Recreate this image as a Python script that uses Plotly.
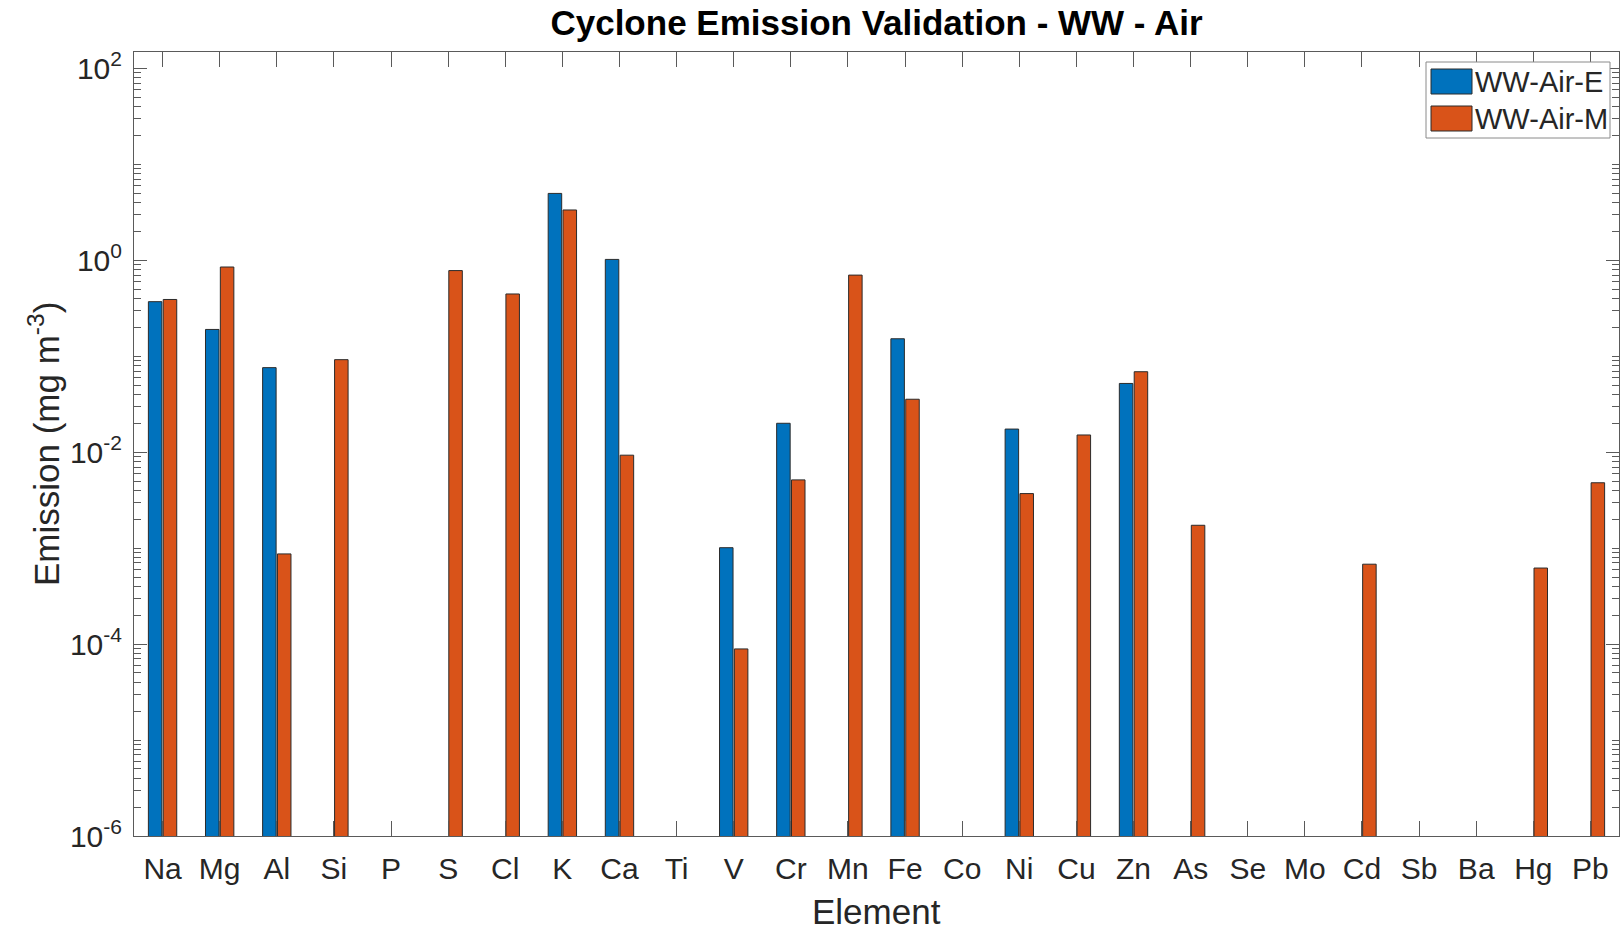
import plotly.graph_objects as go

# Elements on the x axis
elements = ["Na", "Mg", "Al", "Si", "P", "S", "Cl", "K", "Ca", "Ti", "V", "Cr", "Mn",
            "Fe", "Co", "Ni", "Cu", "Zn", "As", "Se", "Mo", "Cd", "Sb", "Ba", "Hg", "Pb"]

# Experimental emissions (mg m^-3); None = not measured / zero
ww_air_e = [0.37, 0.19, 0.076, None, None, None, None, 4.97, 1.02, None, 0.00101, 0.020, None,
            0.152, None, 0.0174, None, 0.052, None, None, None, None, None, None, None, None]

# Model emissions (mg m^-3)
ww_air_m = [0.39, 0.85, 0.00087, 0.092, None, 0.78, 0.445, 3.34, 0.0093, None, 0.000089, 0.00514, 0.70,
            0.0356, None, 0.0037, 0.0151, 0.0689, 0.00173, None, None, 0.00068, None, None, 0.00062, 0.0048]

series_names = ["WW-Air-E", "WW-Air-M"]
series_colors = ["#0072BD", "#D95319"]

# Decade labels on the log axis
y_tick_vals = [1e-6, 1e-4, 1e-2, 1e0, 1e2]
y_tick_text = ["10<sup>-6</sup>", "10<sup>-4</sup>", "10<sup>-2</sup>", "10<sup>0</sup>", "10<sup>2</sup>"]

FONT = "Liberation Sans, Arial, Helvetica, sans-serif"
AXIS_COLOR = "#5a5a5a"
TEXT_COLOR = "#262626"

W, H = 1624, 930
ML, MR, MT, MB = 134, 5, 52, 94
PW, PH = W - ML - MR, H - MT - MB

fig = go.Figure()
for name, vals, col in zip(series_names, [ww_air_e, ww_air_m], series_colors):
    fig.add_trace(go.Bar(
        x=elements, y=vals, name=name,
        marker=dict(color=col, line=dict(color="#2b2b2b", width=1)),
        showlegend=False,
    ))

# minor ticks for every decade between the labelled ones
minor_vals = []
for e in range(-6, 3):
    for k in range(1, 10):
        v = k * 10.0 ** e
        if v not in y_tick_vals and v <= 150:
            minor_vals.append(v)

fig.update_layout(
    width=W, height=H,
    margin=dict(l=ML, r=MR, t=MT, b=MB),
    paper_bgcolor="white", plot_bgcolor="white",
    barmode="group", bargap=0.48, bargroupgap=0.09,
    font=dict(family=FONT, color=TEXT_COLOR),
    title=dict(text="<b>Cyclone Emission Validation - WW - Air</b>",
               x=(ML + PW / 2) / W, xanchor="center", y=1 - 23 / H, yanchor="middle",
               font=dict(size=35, color="black", family=FONT)),
)

fig.update_xaxes(
    type="category", range=[-0.5, 25.5],
    showline=True, linecolor=AXIS_COLOR, linewidth=1, mirror="ticks",
    ticks="inside", ticklen=15, tickcolor=AXIS_COLOR, tickwidth=1,
    tickfont=dict(size=30, color=TEXT_COLOR), ticklabelstandoff=6,
    showgrid=False, zeroline=False,
)
fig.update_yaxes(
    type="log", range=[-6, 2.17],
    tickvals=y_tick_vals, ticktext=y_tick_text,
    showline=True, linecolor=AXIS_COLOR, linewidth=1, mirror="ticks",
    ticks="inside", ticklen=13, tickcolor=AXIS_COLOR, tickwidth=1,
    tickfont=dict(size=30, color=TEXT_COLOR), ticklabelstandoff=5,
    minor=dict(tickvals=minor_vals, ticks="inside", ticklen=7, tickcolor=AXIS_COLOR, showgrid=False),
    showgrid=False, zeroline=False,
)


def px_x(x):
    return (x - ML) / PW


def px_y(y):
    return (H - MB - y) / PH


# axis titles
fig.add_annotation(text="Emission (mg m<sup>-3</sup>)", xref="paper", yref="paper",
                   x=px_x(44), y=px_y(444), textangle=-90, showarrow=False,
                   xanchor="center", yanchor="middle", font=dict(size=35, color=TEXT_COLOR))
fig.add_annotation(text="Element", xref="paper", yref="paper",
                   x=px_x(ML + PW / 2), y=px_y(911), showarrow=False,
                   xanchor="center", yanchor="middle", font=dict(size=35, color=TEXT_COLOR))

# legend box with swatches
fig.add_shape(type="rect", xref="paper", yref="paper",
              x0=px_x(1426), x1=px_x(1610), y0=px_y(62), y1=px_y(138),
              line=dict(color="#8a8a8a", width=1), fillcolor="white", layer="above")
for i, (name, col) in enumerate(zip(series_names, series_colors)):
    yc = 81.5 + i * 37
    fig.add_shape(type="rect", xref="paper", yref="paper",
                  x0=px_x(1431), x1=px_x(1472), y0=px_y(yc - 12.5), y1=px_y(yc + 12.5),
                  line=dict(color="#2b2b2b", width=1), fillcolor=col, layer="above")
    fig.add_annotation(text=name, xref="paper", yref="paper",
                       x=px_x(1473), y=px_y(yc), showarrow=False,
                       xanchor="left", yanchor="middle", font=dict(size=29, color=TEXT_COLOR))

fig.write_html("out.html")
